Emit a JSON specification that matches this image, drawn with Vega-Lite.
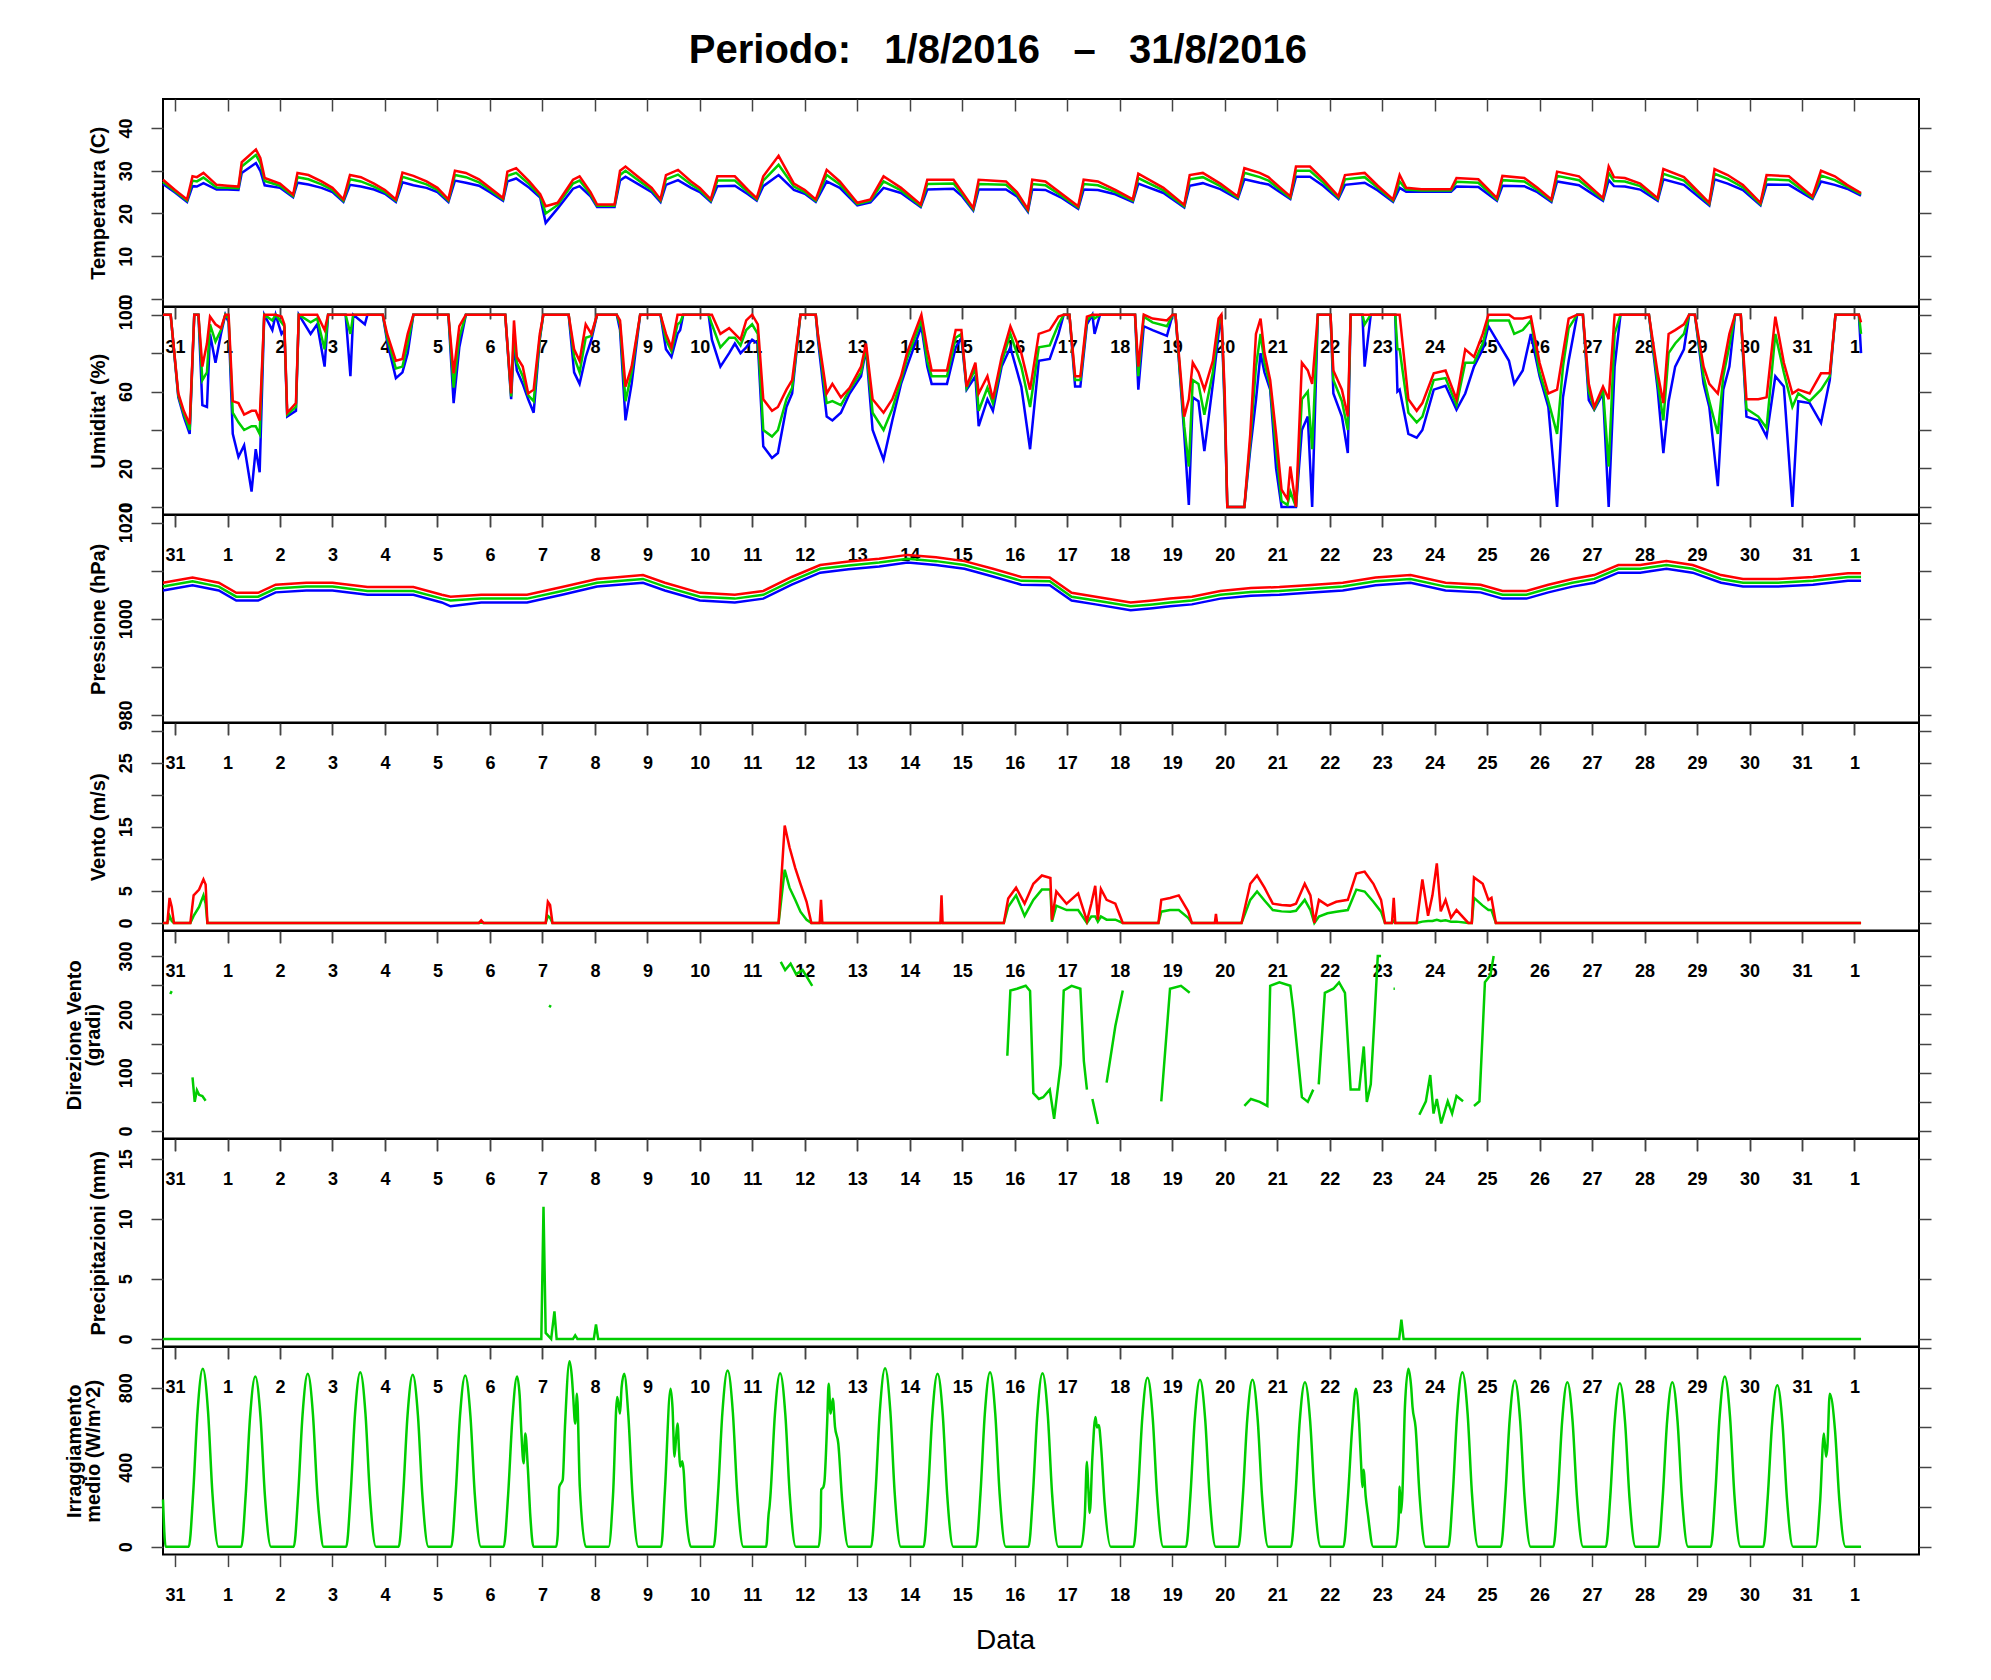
{
  "$schema": "https://vega.github.io/schema/vega-lite/v6.json",
  "padding": {"left": 62, "top": 31, "right": 5, "bottom": 5},
  "title": {
    "text": "Periodo:\u00a0\u00a0\u00a01/8/2016\u00a0\u00a0\u00a0–\u00a0\u00a0\u00a031/8/2016",
    "font": "Liberation Sans", "fontSize": 40, "fontWeight": "bold", "color": "#000",
    "anchor": "middle", "frame": "bounds", "baseline": "alphabetic", "offset": -6
  },
  "spacing": 0,
  "bounds": "flush",
  "config": {
    "view": {"stroke": "#000", "strokeWidth": 2},
    "axis": {
      "domain": false, "grid": false, "tickColor": "#444", "tickWidth": 1.5,
      "labelFont": "Liberation Sans", "labelFontSize": 18, "labelFontWeight": "bold", "labelColor": "#000",
      "labelFlush": false, "labelOverlap": false, "labelBound": false,
      "titleFont": "Liberation Sans", "titleFontSize": 20, "titleFontWeight": "bold", "titleColor": "#000"
    },
    "line": {"strokeWidth": 2.5}
  },
  "datasets": {
    "temp": [
      {"h":-5.5,"a":26.9,"b":27.4,"c":27.9},{"h":0,"a":24.9,"b":25.2,"c":25.5},{"h":5.5,"a":22.7,"b":23.0,"c":23.3},
      {"h":8,"a":26.4,"b":27.7,"c":28.7},{"h":10,"a":26.3,"b":27.5,"c":28.5},{"h":13,"a":27.1,"b":28.4,"c":29.5},
      {"h":19,"a":25.6,"b":26.1,"c":26.7},{"h":24,"a":25.6,"b":26.0,"c":26.5},{"h":29,"a":25.5,"b":25.9,"c":26.3},
      {"h":30.5,"a":29.5,"b":31,"c":32},{"h":37,"a":31.8,"b":33.7,"c":35},{"h":39,"a":30,"b":31.8,"c":33},
      {"h":41,"a":26.6,"b":27.6,"c":28.3},{"h":48,"a":26,"b":26.5,"c":27},{"h":54,"a":23.8,"b":24.1,"c":24.4},
      {"h":56,"a":27.2,"b":28.5,"c":29.5},{"h":61,"a":26.8,"b":28,"c":29},{"h":67,"a":26,"b":26.8,"c":27.5},
      {"h":72,"a":25,"b":25.5,"c":26},{"h":77,"a":22.7,"b":23,"c":23.3},{"h":80,"a":26.7,"b":28,"c":29},
      {"h":85,"a":26.3,"b":27.5,"c":28.5},{"h":91,"a":25.6,"b":26.3,"c":27},{"h":96,"a":24.6,"b":25,"c":25.5},
      {"h":101,"a":22.7,"b":23,"c":23.3},{"h":104,"a":27.3,"b":28.6,"c":29.6},{"h":109,"a":26.6,"b":27.8,"c":28.8},
      {"h":115,"a":26,"b":26.8,"c":27.5},{"h":120,"a":25,"b":25.5,"c":26},{"h":125,"a":22.7,"b":23,"c":23.3},
      {"h":128,"a":27.7,"b":29,"c":30},{"h":133,"a":27.2,"b":28.5,"c":29.5},{"h":139,"a":26.5,"b":27.3,"c":28},
      {"h":144,"a":25,"b":25.5,"c":26},{"h":150,"a":23,"b":23.3,"c":23.6},{"h":152,"a":27.5,"b":28.8,"c":29.8},
      {"h":156,"a":28.2,"b":29.5,"c":30.6},{"h":162,"a":26,"b":26.8,"c":27.5},{"h":167,"a":23.7,"b":24.1,"c":24.5},
      {"h":169.5,"a":17.8,"b":20,"c":21.7},{"h":175,"a":21.2,"b":22,"c":22.5},{"h":182,"a":25.8,"b":27,"c":27.9},
      {"h":185,"a":26.4,"b":27.7,"c":28.7},{"h":190,"a":24,"b":24.5,"c":25},{"h":193,"a":21.5,"b":21.8,"c":22.1},
      {"h":201,"a":21.5,"b":21.8,"c":22.1},{"h":203.5,"a":27.7,"b":29,"c":30},{"h":206,"a":28.6,"b":30,"c":31},
      {"h":212,"a":26.8,"b":27.7,"c":28.5},{"h":218,"a":25,"b":25.5,"c":26},{"h":222,"a":22.7,"b":23,"c":23.3},
      {"h":224.5,"a":26.7,"b":28,"c":29},{"h":230,"a":27.8,"b":29.1,"c":30.2},{"h":236,"a":26,"b":26.8,"c":27.5},
      {"h":240,"a":25,"b":25.5,"c":26},{"h":245,"a":22.7,"b":23,"c":23.3},{"h":248,"a":26.4,"b":27.7,"c":28.7},
      {"h":256,"a":26.5,"b":27.7,"c":28.7},{"h":262,"a":24.5,"b":25,"c":25.5},{"h":266,"a":23,"b":23.3,"c":23.6},
      {"h":269,"a":26.4,"b":27.7,"c":28.7},{"h":276,"a":29,"b":31.4,"c":33.5},{"h":283,"a":25.5,"b":26.3,"c":27},
      {"h":288,"a":24.6,"b":25,"c":25.5},{"h":293,"a":22.7,"b":23,"c":23.3},{"h":298,"a":27.5,"b":29,"c":30.2},
      {"h":304,"a":26,"b":26.8,"c":27.5},{"h":312,"a":21.9,"b":22.2,"c":22.5},{"h":318,"a":22.6,"b":23,"c":23.3},
      {"h":324,"a":26,"b":27.5,"c":28.7},{"h":332,"a":24.8,"b":25.4,"c":26},{"h":341,"a":21.5,"b":21.8,"c":22.1},
      {"h":344,"a":25.6,"b":26.9,"c":27.9},{"h":356,"a":25.8,"b":27,"c":27.9},{"h":360,"a":24,"b":24.5,"c":25},
      {"h":365,"a":20.7,"b":21,"c":21.3},{"h":367.5,"a":25.6,"b":26.9,"c":27.9},{"h":380,"a":25.6,"b":26.7,"c":27.5},
      {"h":385,"a":24,"b":24.5,"c":25},{"h":390,"a":20.4,"b":20.7,"c":21},{"h":392,"a":25.6,"b":26.9,"c":27.9},
      {"h":398,"a":25.5,"b":26.6,"c":27.5},{"h":405,"a":23.8,"b":24.3,"c":24.8},{"h":413,"a":21.1,"b":21.4,"c":21.7},
      {"h":415.5,"a":25.6,"b":26.9,"c":27.9},{"h":422,"a":25.5,"b":26.6,"c":27.5},{"h":430,"a":24.5,"b":25,"c":25.5},
      {"h":438,"a":22.7,"b":23,"c":23.3},{"h":440.5,"a":27,"b":28.3,"c":29.3},{"h":452,"a":24.8,"b":25.4,"c":26},
      {"h":461.5,"a":21.4,"b":21.7,"c":22},{"h":464,"a":26.5,"b":28,"c":29},{"h":470,"a":27.1,"b":28.5,"c":29.5},
      {"h":478,"a":25.7,"b":26.4,"c":27},{"h":486,"a":23.4,"b":23.7,"c":24},{"h":489,"a":28,"b":29.5,"c":30.6},
      {"h":496,"a":27.2,"b":28.5,"c":29.5},{"h":500,"a":26.8,"b":27.7,"c":28.5},{"h":510,"a":23.4,"b":23.7,"c":24},
      {"h":512.6,"a":28.6,"b":30,"c":31},{"h":519,"a":28.6,"b":30,"c":31},{"h":525,"a":26.5,"b":27.3,"c":28},
      {"h":532,"a":23.4,"b":23.7,"c":24},{"h":535,"a":26.7,"b":28,"c":29},{"h":544,"a":27.2,"b":28.5,"c":29.5},
      {"h":550,"a":25.4,"b":26,"c":26.5},{"h":557,"a":22.7,"b":23,"c":23.3},{"h":560,"a":26,"b":27.5,"c":29},
      {"h":563,"a":25.1,"b":25.6,"c":26},{"h":570,"a":25.1,"b":25.4,"c":25.7},{"h":583.5,"a":25.1,"b":25.4,"c":25.7},
      {"h":586,"a":26.3,"b":27.4,"c":28.3},{"h":596,"a":26.2,"b":27.2,"c":28},{"h":604.5,"a":23,"b":23.3,"c":23.6},
      {"h":607,"a":26.5,"b":27.8,"c":28.8},{"h":617,"a":26.4,"b":27.5,"c":28.3},{"h":623,"a":25,"b":25.5,"c":26},
      {"h":629.4,"a":22.7,"b":23,"c":23.3},{"h":632,"a":27.5,"b":28.8,"c":29.8},{"h":642,"a":26.6,"b":27.8,"c":28.7},
      {"h":653,"a":23,"b":23.3,"c":23.6},{"h":655.6,"a":27.8,"b":29.5,"c":31},{"h":658,"a":26.4,"b":27.6,"c":28.5},
      {"h":663,"a":26.3,"b":27.5,"c":28.3},{"h":670,"a":25.6,"b":26.4,"c":27},{"h":678,"a":23,"b":23.3,"c":23.6},
      {"h":680.6,"a":28,"b":29.3,"c":30.4},{"h":690,"a":26.7,"b":27.7,"c":28.5},{"h":701.6,"a":21.9,"b":22.2,"c":22.5},
      {"h":704,"a":28,"b":29.3,"c":30.4},{"h":710,"a":27,"b":28.1,"c":29},{"h":717,"a":25.5,"b":26.1,"c":26.7},
      {"h":725,"a":21.9,"b":22.2,"c":22.5},{"h":727.8,"a":26.8,"b":28,"c":29},{"h":738,"a":26.7,"b":27.8,"c":28.7},
      {"h":748.8,"a":23.4,"b":23.7,"c":24},{"h":752.7,"a":27.5,"b":28.9,"c":30},{"h":759,"a":26.7,"b":27.8,"c":28.7},
      {"h":764.6,"a":25.8,"b":26.3,"c":26.7},{"h":771,"a":24.2,"b":24.5,"c":24.8}
    ],
    "hum": [
      {"h":-5.5,"a":100,"b":100,"c":100},{"h":-2,"a":100,"b":100,"c":100},{"h":1.5,"a":57,"b":58,"c":59},
      {"h":4,"a":47,"b":48.5,"c":50},{"h":6.7,"a":38,"b":40,"c":43},{"h":8.8,"a":100,"b":100,"c":100},
      {"h":10.7,"a":100,"b":100,"c":100},{"h":12.5,"a":53,"b":66,"c":73},{"h":14.6,"a":52,"b":70,"c":85},
      {"h":16,"a":90,"b":95,"c":99},{"h":18.5,"a":75,"b":86,"c":95},{"h":21,"a":90,"b":92,"c":93},
      {"h":23,"a":100,"b":100,"c":100},{"h":24.5,"a":96,"b":98,"c":100},{"h":26.4,"a":38,"b":49,"c":55},
      {"h":29,"a":26,"b":44,"c":54},{"h":31.6,"a":32,"b":40,"c":48},{"h":35,"a":8,"b":42,"c":50},
      {"h":36.9,"a":30,"b":42,"c":50},{"h":38.7,"a":18,"b":38,"c":45},{"h":40.8,"a":100,"b":100,"c":100},
      {"h":44.5,"a":92,"b":97,"c":100},{"h":46,"a":100,"b":100,"c":100},{"h":48.7,"a":90,"b":96,"c":99},
      {"h":50,"a":92,"b":94,"c":95},{"h":51.3,"a":47,"b":48,"c":49},{"h":55.3,"a":50,"b":52,"c":54},
      {"h":56.6,"a":100,"b":100,"c":100},{"h":62,"a":90,"b":96,"c":100},{"h":65,"a":95,"b":98,"c":100},
      {"h":68.4,"a":73,"b":82,"c":92},{"h":70,"a":100,"b":100,"c":100},{"h":78,"a":100,"b":100,"c":100},
      {"h":80.2,"a":68,"b":90,"c":100},{"h":81.5,"a":100,"b":100,"c":100},{"h":86.8,"a":95,"b":100,"c":100},
      {"h":88,"a":100,"b":100,"c":100},{"h":95,"a":100,"b":100,"c":100},{"h":97,"a":86,"b":88,"c":90},
      {"h":101,"a":67,"b":72,"c":76},{"h":104,"a":70,"b":73,"c":77},{"h":106.4,"a":80,"b":85,"c":90},
      {"h":109,"a":100,"b":100,"c":100},{"h":125,"a":100,"b":100,"c":100},{"h":127.4,"a":54,"b":62,"c":69.5},
      {"h":130,"a":83,"b":88,"c":94},{"h":133,"a":100,"b":100,"c":100},{"h":151,"a":100,"b":100,"c":100},
      {"h":153.7,"a":56,"b":57.5,"c":59},{"h":155,"a":85,"b":90,"c":97},{"h":156.3,"a":71,"b":75,"c":78},
      {"h":159,"a":64,"b":68,"c":73},{"h":161.5,"a":56,"b":58,"c":59},{"h":164,"a":49,"b":55,"c":61},
      {"h":166.8,"a":87,"b":88,"c":90},{"h":168.4,"a":100,"b":100,"c":100},{"h":180,"a":100,"b":100,"c":100},
      {"h":182.5,"a":70,"b":78,"c":82},{"h":185,"a":64,"b":70,"c":76},{"h":187.8,"a":78,"b":88,"c":95},
      {"h":190.4,"a":87,"b":89,"c":90},{"h":193,"a":100,"b":100,"c":100},{"h":202,"a":100,"b":100,"c":100},
      {"h":203.5,"a":92,"b":95,"c":97},{"h":206,"a":45,"b":55,"c":62.6},{"h":208.8,"a":64,"b":70,"c":73},
      {"h":212.7,"a":100,"b":100,"c":100},{"h":222,"a":100,"b":100,"c":100},{"h":224.5,"a":82,"b":87,"c":90},
      {"h":227,"a":78,"b":81,"c":83},{"h":229.8,"a":90,"b":95,"c":100},{"h":231,"a":92,"b":96,"c":100},
      {"h":232.4,"a":100,"b":100,"c":100},{"h":244,"a":100,"b":100,"c":100},{"h":245.5,"a":87,"b":95,"c":100},
      {"h":249.4,"a":73,"b":83,"c":90},{"h":253.4,"a":80,"b":88,"c":93},{"h":256,"a":85,"b":88,"c":90},
      {"h":258.6,"a":80,"b":84,"c":87},{"h":261.2,"a":83,"b":92,"c":97},{"h":263.9,"a":87,"b":95,"c":100},
      {"h":266.5,"a":85,"b":90,"c":95},{"h":269,"a":31.5,"b":40,"c":56},{"h":273,"a":25.5,"b":36.6,"c":50},
      {"h":275.7,"a":28,"b":40,"c":52},{"h":279.6,"a":52,"b":56,"c":61},{"h":282.2,"a":59,"b":62,"c":66},
      {"h":286,"a":100,"b":100,"c":100},{"h":293,"a":100,"b":100,"c":100},{"h":294,"a":87,"b":89,"c":90},
      {"h":298,"a":47,"b":54,"c":59},{"h":300.6,"a":45,"b":55,"c":64},{"h":304.5,"a":49,"b":53,"c":57},
      {"h":308.5,"a":59,"b":61,"c":62},{"h":313.7,"a":68,"b":70,"c":73},{"h":316,"a":82,"b":83,"c":85},
      {"h":319,"a":40,"b":49,"c":56},{"h":324,"a":24.6,"b":40,"c":49},{"h":328,"a":45,"b":51,"c":56},
      {"h":332,"a":64,"b":66,"c":68},{"h":334.7,"a":73,"b":77,"c":80},{"h":341.3,"a":94,"b":97,"c":100},
      {"h":344,"a":73,"b":76,"c":82},{"h":346,"a":64,"b":68,"c":71},{"h":353,"a":64,"b":68,"c":71},
      {"h":357,"a":83,"b":88,"c":92},{"h":359.6,"a":88,"b":90,"c":92},{"h":362,"a":61,"b":62,"c":62.6},
      {"h":366,"a":68,"b":72,"c":75},{"h":367.5,"a":42,"b":50,"c":59},{"h":371.5,"a":56,"b":62,"c":68},
      {"h":374,"a":50,"b":54,"c":56},{"h":378,"a":73,"b":75,"c":78},{"h":382,"a":83,"b":90,"c":94},
      {"h":387,"a":62.6,"b":73,"c":80},{"h":391,"a":30,"b":52,"c":61},{"h":395,"a":76,"b":83,"c":90},
      {"h":400,"a":77,"b":84,"c":92},{"h":404,"a":90,"b":95,"c":99},{"h":406.4,"a":100,"b":100,"c":100},
      {"h":409,"a":100,"b":100,"c":100},{"h":411.6,"a":62.6,"b":66,"c":68},{"h":414,"a":62.6,"b":66,"c":68},
      {"h":417,"a":95,"b":97,"c":99},{"h":419.5,"a":100,"b":100,"c":100},{"h":420.5,"a":90,"b":98,"c":100},
      {"h":423,"a":100,"b":100,"c":100},{"h":439,"a":100,"b":100,"c":100},{"h":440.5,"a":61,"b":68,"c":73},
      {"h":443,"a":94,"b":99,"c":100},{"h":447,"a":92,"b":96,"c":98},{"h":453.6,"a":89,"b":94,"c":97},
      {"h":456.2,"a":100,"b":100,"c":100},{"h":457.5,"a":100,"b":100,"c":100},{"h":461.5,"a":38,"b":42,"c":47},
      {"h":463.6,"a":1,"b":21,"c":56},{"h":465.4,"a":57,"b":66,"c":75},{"h":468,"a":55,"b":64,"c":70},
      {"h":470.7,"a":29,"b":48,"c":61},{"h":474.6,"a":64,"b":70,"c":76},{"h":477.2,"a":90,"b":95,"c":98},
      {"h":478.5,"a":100,"b":100,"c":100},{"h":480,"a":50,"b":55,"c":60},{"h":481.2,"a":0,"b":0,"c":0},
      {"h":489,"a":0,"b":0,"c":0},{"h":491.7,"a":30,"b":34,"c":38},{"h":494.3,"a":55.6,"b":73,"c":90},
      {"h":496.4,"a":80,"b":90,"c":98},{"h":498.2,"a":70,"b":75,"c":80},{"h":500.8,"a":61,"b":63,"c":66},
      {"h":503.5,"a":20,"b":30,"c":38},{"h":506,"a":0,"b":3,"c":9},{"h":508.7,"a":0,"b":1,"c":4},
      {"h":510,"a":0,"b":8,"c":21},{"h":512.6,"a":0,"b":0,"c":0},{"h":515.3,"a":40,"b":56,"c":75},
      {"h":518,"a":47,"b":60,"c":71},{"h":520,"a":0,"b":30,"c":64},{"h":522.6,"a":100,"b":100,"c":100},
      {"h":528.4,"a":100,"b":100,"c":100},{"h":529.7,"a":59,"b":66,"c":71},{"h":533.6,"a":47,"b":55,"c":61},
      {"h":536.3,"a":28,"b":40,"c":47},{"h":537.6,"a":100,"b":100,"c":100},{"h":543,"a":100,"b":100,"c":100},
      {"h":544,"a":73,"b":95,"c":100},{"h":546.8,"a":100,"b":100,"c":100},{"h":558,"a":100,"b":100,"c":100},
      {"h":559,"a":60,"b":82,"c":100},{"h":560,"a":61,"b":82,"c":100},{"h":564,"a":38,"b":49,"c":56},
      {"h":567.8,"a":36,"b":44,"c":50},{"h":570.4,"a":40,"b":47,"c":54},{"h":575.6,"a":61,"b":66,"c":69.5},
      {"h":581,"a":63,"b":67,"c":71},{"h":586,"a":50.6,"b":53,"c":56},{"h":590,"a":59,"b":75,"c":82},
      {"h":594,"a":73,"b":75,"c":78},{"h":598,"a":82,"b":85,"c":90},{"h":600.6,"a":94,"b":97,"c":100},
      {"h":610,"a":76,"b":97,"c":100},{"h":612.4,"a":64,"b":90,"c":98},{"h":616.3,"a":71,"b":92,"c":98},
      {"h":620,"a":90,"b":97,"c":99},{"h":624,"a":68,"b":70,"c":75},{"h":628,"a":52,"b":55,"c":59},
      {"h":632,"a":0,"b":38,"c":61},{"h":634.7,"a":57,"b":73,"c":80},{"h":637.3,"a":76,"b":93,"c":98},
      {"h":641.2,"a":100,"b":100,"c":100},{"h":643.8,"a":100,"b":100,"c":100},{"h":646.5,"a":55.6,"b":60,"c":64},
      {"h":649,"a":50.6,"b":51,"c":52},{"h":653,"a":59,"b":61,"c":62.6},{"h":655.6,"a":0,"b":21,"c":56},
      {"h":658.3,"a":73,"b":90,"c":100},{"h":661,"a":100,"b":100,"c":100},{"h":674,"a":100,"b":100,"c":100},
      {"h":678,"a":61,"b":65,"c":69.5},{"h":680.6,"a":28,"b":45,"c":54},{"h":683,"a":55,"b":80,"c":90},
      {"h":686,"a":73,"b":85,"c":92},{"h":690,"a":82,"b":90,"c":95},{"h":692.4,"a":100,"b":100,"c":100},
      {"h":695,"a":100,"b":100,"c":100},{"h":699,"a":64,"b":68,"c":73},{"h":701.6,"a":52,"b":55,"c":64},
      {"h":705.5,"a":10.8,"b":38,"c":59},{"h":708,"a":61,"b":68,"c":73},{"h":710.8,"a":73,"b":84,"c":90},
      {"h":713.4,"a":100,"b":100,"c":100},{"h":716,"a":100,"b":100,"c":100},{"h":718.6,"a":47,"b":51,"c":56},
      {"h":724,"a":45,"b":47,"c":56},{"h":727.8,"a":36.6,"b":41,"c":57},{"h":731.8,"a":68,"b":90,"c":99},
      {"h":735.7,"a":62.6,"b":70,"c":75},{"h":739.6,"a":0,"b":52,"c":59},{"h":742.3,"a":55,"b":59,"c":61},
      {"h":747.5,"a":54,"b":55,"c":59},{"h":752.7,"a":43.6,"b":61,"c":69.5},{"h":756.7,"a":66,"b":68,"c":69.5},
      {"h":759.3,"a":100,"b":100,"c":100},{"h":770,"a":100,"b":100,"c":100},{"h":771,"a":80,"b":90,"c":96}
    ],
    "pres": [
      {"h":-5.5,"a":1005.9,"b":1006.7,"c":1007.5},{"h":8,"a":1007.0,"b":1007.8,"c":1008.6},{"h":20,"a":1005.9,"b":1006.7,"c":1007.5},
      {"h":28,"a":1003.8,"b":1004.6,"c":1005.4},{"h":38,"a":1003.8,"b":1004.6,"c":1005.4},{"h":46,"a":1005.5,"b":1006.3,"c":1007.1},
      {"h":60,"a":1005.9,"b":1006.7,"c":1007.5},{"h":72,"a":1005.9,"b":1006.7,"c":1007.5},{"h":88,"a":1005.0,"b":1005.8,"c":1006.6},
      {"h":109,"a":1005.0,"b":1005.8,"c":1006.6},{"h":122,"a":1003.4,"b":1004.2,"c":1005.0},{"h":126,"a":1002.6,"b":1003.8,"c":1004.6},
      {"h":140,"a":1003.4,"b":1004.2,"c":1005.0},{"h":161,"a":1003.4,"b":1004.2,"c":1005.0},{"h":177,"a":1005.0,"b":1005.8,"c":1006.6},
      {"h":193,"a":1006.7,"b":1007.5,"c":1008.3},{"h":214,"a":1007.5,"b":1008.3,"c":1009.1},{"h":224,"a":1005.9,"b":1006.7,"c":1007.5},
      {"h":240,"a":1003.8,"b":1004.6,"c":1005.4},{"h":256,"a":1003.4,"b":1004.2,"c":1005.0},{"h":269,"a":1004.2,"b":1005.0,"c":1005.8},
      {"h":282,"a":1007.1,"b":1007.9,"c":1008.7},{"h":295,"a":1009.6,"b":1010.4,"c":1011.2},{"h":308,"a":1010.3,"b":1011.1,"c":1011.9},
      {"h":322,"a":1010.9,"b":1011.7,"c":1012.5},{"h":335,"a":1011.7,"b":1012.5,"c":1013.3},{"h":348,"a":1011.2,"b":1012.0,"c":1012.8},
      {"h":361,"a":1010.4,"b":1011.2,"c":1012.0},{"h":374,"a":1008.8,"b":1009.6,"c":1010.4},{"h":387,"a":1007.1,"b":1007.9,"c":1008.7},
      {"h":400,"a":1007.0,"b":1007.8,"c":1008.6},{"h":410,"a":1003.8,"b":1004.6,"c":1005.4},{"h":421,"a":1003.0,"b":1003.8,"c":1004.6},
      {"h":437,"a":1001.8,"b":1002.6,"c":1003.4},{"h":447,"a":1002.2,"b":1003.0,"c":1003.8},{"h":455,"a":1002.6,"b":1003.4,"c":1004.2},
      {"h":465,"a":1003.0,"b":1003.8,"c":1004.6},{"h":478,"a":1004.2,"b":1005.0,"c":1005.8},{"h":492,"a":1004.8,"b":1005.6,"c":1006.4},
      {"h":505,"a":1005.0,"b":1005.8,"c":1006.6},{"h":518,"a":1005.4,"b":1006.2,"c":1007.0},{"h":534,"a":1005.9,"b":1006.7,"c":1007.5},
      {"h":549,"a":1007.0,"b":1007.8,"c":1008.6},{"h":565,"a":1007.5,"b":1008.3,"c":1009.1},{"h":581,"a":1005.9,"b":1006.7,"c":1007.5},
      {"h":597,"a":1005.5,"b":1006.3,"c":1007.1},{"h":607,"a":1004.2,"b":1005.0,"c":1005.8},{"h":618,"a":1004.2,"b":1005.0,"c":1005.8},
      {"h":628,"a":1005.5,"b":1006.3,"c":1007.1},{"h":639,"a":1006.7,"b":1007.5,"c":1008.3},{"h":649,"a":1007.5,"b":1008.3,"c":1009.1},
      {"h":660,"a":1009.6,"b":1010.4,"c":1011.2},{"h":670,"a":1009.6,"b":1010.4,"c":1011.2},{"h":682,"a":1010.4,"b":1011.2,"c":1012.0},
      {"h":694,"a":1009.6,"b":1010.4,"c":1011.2},{"h":707,"a":1007.5,"b":1008.3,"c":1009.1},{"h":717,"a":1006.7,"b":1007.5,"c":1008.3},
      {"h":733,"a":1006.7,"b":1007.5,"c":1008.3},{"h":749,"a":1007.1,"b":1007.9,"c":1008.7},{"h":765,"a":1007.9,"b":1008.7,"c":1009.5},
      {"h":771,"a":1007.9,"b":1008.7,"c":1009.5}
    ],
    "wind": [
      {"h":-5.5,"a":0,"b":0,"c":0},{"h":-3.5,"a":0,"b":0,"c":0},{"h":-2.5,"a":0,"b":1.1,"c":3.9},{"h":-1.5,"a":0,"b":0.3,"c":2.5},
      {"h":-0.5,"a":0,"b":0,"c":0},{"h":7,"a":0,"b":0,"c":0},{"h":8.5,"a":0,"b":1.1,"c":4.3},{"h":11,"a":0,"b":2.5,"c":5.2},
      {"h":13,"a":0,"b":4.3,"c":6.8},{"h":14,"a":0,"b":3,"c":6},{"h":14.8,"a":0,"b":0,"c":0},{"h":139,"a":0,"b":0,"c":0},
      {"h":140,"a":0,"b":0.2,"c":0.4},{"h":141,"a":0,"b":0,"c":0},{"h":169.5,"a":0,"b":0,"c":0},{"h":170.5,"a":0,"b":1.1,"c":3.3},
      {"h":171.5,"a":0,"b":0.8,"c":2.8},{"h":172.6,"a":0,"b":0,"c":0},{"h":276,"a":0,"b":0,"c":0},{"h":278.8,"a":0,"b":8.3,"c":15.2},
      {"h":281,"a":0,"b":5.5,"c":11.8},{"h":283.6,"a":0,"b":3.6,"c":8.6},{"h":286,"a":0,"b":1.75,"c":6.1},{"h":288.8,"a":0,"b":0.5,"c":3.3},
      {"h":291,"a":0,"b":0,"c":0},{"h":294.8,"a":0,"b":0,"c":0},{"h":295.4,"a":0,"b":0.5,"c":3.6},{"h":296,"a":0,"b":0,"c":0},
      {"h":350,"a":0,"b":0,"c":0},{"h":350.5,"a":0,"b":0.3,"c":4.3},{"h":351,"a":0,"b":0,"c":0},{"h":379,"a":0,"b":0,"c":0},
      {"h":381,"a":0,"b":2.5,"c":3.8},{"h":384.6,"a":0,"b":4.3,"c":5.5},{"h":388.5,"a":0,"b":1.1,"c":3},{"h":392.5,"a":0,"b":3.6,"c":6.1},
      {"h":396.4,"a":0,"b":5.2,"c":7.4},{"h":400.3,"a":0,"b":5.2,"c":7},{"h":401,"a":0,"b":0.2,"c":0.5},{"h":403,"a":0,"b":2.7,"c":4.9},
      {"h":407.7,"a":0,"b":2,"c":3},{"h":413,"a":0,"b":2,"c":4.6},{"h":417,"a":0,"b":0,"c":0.3},{"h":419,"a":0,"b":1,"c":3},
      {"h":420.8,"a":0,"b":1,"c":5.8},{"h":422,"a":0,"b":0.2,"c":0.5},{"h":423.4,"a":0,"b":1,"c":5.3},{"h":426,"a":0,"b":0.5,"c":3.6},
      {"h":430,"a":0,"b":0.5,"c":3},{"h":433.4,"a":0,"b":0,"c":0},{"h":449.7,"a":0,"b":0,"c":0},{"h":451,"a":0,"b":1.75,"c":3.6},
      {"h":455,"a":0,"b":2,"c":3.9},{"h":459,"a":0,"b":2,"c":4.3},{"h":463.3,"a":0,"b":0.8,"c":1.8},{"h":465,"a":0,"b":0,"c":0},
      {"h":475.5,"a":0,"b":0,"c":0},{"h":476,"a":0,"b":0.3,"c":1.4},{"h":476.5,"a":0,"b":0,"c":0},{"h":487.7,"a":0,"b":0,"c":0},
      {"h":491.7,"a":0,"b":3.6,"c":6.1},{"h":494.8,"a":0,"b":4.9,"c":7.4},{"h":498.2,"a":0,"b":3.5,"c":5.5},{"h":502,"a":0,"b":2,"c":3},
      {"h":506,"a":0,"b":1.8,"c":2.8},{"h":510,"a":0,"b":1.75,"c":2.7},{"h":512.6,"a":0,"b":1.9,"c":3},{"h":516.6,"a":0,"b":3.6,"c":6.1},
      {"h":519.2,"a":0,"b":2,"c":4.3},{"h":521,"a":0,"b":0,"c":0},{"h":523.1,"a":0,"b":1,"c":3.6},{"h":527,"a":0,"b":1.5,"c":2.7},
      {"h":531,"a":0,"b":1.75,"c":3.3},{"h":536.3,"a":0,"b":2,"c":3.6},{"h":540.2,"a":0,"b":5.2,"c":7.7},{"h":544,"a":0,"b":4.9,"c":8},
      {"h":548,"a":0,"b":3.3,"c":6.1},{"h":551.5,"a":0,"b":1.75,"c":3.6},{"h":553.3,"a":0,"b":0,"c":0},{"h":556.5,"a":0,"b":0,"c":0},
      {"h":557.3,"a":0,"b":0.3,"c":3.9},{"h":558,"a":0,"b":0,"c":0},{"h":567.8,"a":0,"b":0,"c":0},{"h":570.4,"a":0,"b":0.2,"c":6.8},
      {"h":573,"a":0,"b":0.3,"c":1.1},{"h":575,"a":0,"b":0.3,"c":4.3},{"h":577,"a":0,"b":0.5,"c":9.3},{"h":578.8,"a":0,"b":0.3,"c":1.8},
      {"h":581,"a":0,"b":0.4,"c":3.6},{"h":583.5,"a":0,"b":0.2,"c":0.8},{"h":586,"a":0,"b":0.2,"c":2},{"h":591.4,"a":0,"b":0,"c":0},
      {"h":593,"a":0,"b":0,"c":0},{"h":594,"a":0,"b":3.9,"c":7.1},{"h":598,"a":0,"b":2.7,"c":6.1},{"h":600.6,"a":0,"b":2,"c":3.6},
      {"h":602,"a":0,"b":2,"c":3.9},{"h":604,"a":0,"b":0,"c":0},{"h":771,"a":0,"b":0,"c":0}
    ],
    "dir": [
      {"h":-2.2,"v":235},{"h":-1.5,"v":240},{"h":-1,"v":null},
      {"h":8,"v":92},{"h":9,"v":50},{"h":10,"v":70},{"h":11,"v":62},{"h":12.5,"v":60},{"h":14,"v":52},{"h":15,"v":null},
      {"h":171.2,"v":212},{"h":171.8,"v":216},{"h":172.5,"v":null},
      {"h":277,"v":290},{"h":279,"v":276},{"h":281.5,"v":287},{"h":284,"v":269},{"h":287,"v":276},{"h":291.4,"v":249},{"h":292,"v":null},
      {"h":380.6,"v":129},{"h":382,"v":241},{"h":385,"v":244},{"h":389,"v":249},{"h":391,"v":240},{"h":392.5,"v":65},{"h":395,"v":55},
      {"h":397,"v":58},{"h":400,"v":71},{"h":402,"v":21},{"h":405,"v":114},{"h":406.4,"v":241},{"h":410,"v":249},{"h":414,"v":244},
      {"h":415.6,"v":120},{"h":417,"v":71},{"h":418,"v":null},{"h":419.5,"v":55},{"h":422,"v":12},{"h":423,"v":null},
      {"h":426,"v":83},{"h":430,"v":180},{"h":433.4,"v":241},{"h":434,"v":null},
      {"h":451,"v":51},{"h":455,"v":244},{"h":460,"v":249},{"h":464,"v":237},{"h":465,"v":null},
      {"h":489,"v":43},{"h":492,"v":55},{"h":496,"v":50},{"h":499.5,"v":43},{"h":500.8,"v":249},{"h":505,"v":255},{"h":510,"v":249},
      {"h":511.3,"v":210},{"h":515.3,"v":58},{"h":518,"v":50},{"h":520.5,"v":71},{"h":521.5,"v":null},
      {"h":523,"v":80},{"h":525.8,"v":237},{"h":529.7,"v":244},{"h":532.3,"v":255},{"h":535,"v":237},{"h":537.6,"v":71},{"h":541.5,"v":71},
      {"h":543.6,"v":145},{"h":545,"v":50},{"h":546.8,"v":80},{"h":548.6,"v":200},{"h":550,"v":300},{"h":551.5,"v":300},{"h":552,"v":null},
      {"h":557.2,"v":244},{"h":557.8,"v":244},{"h":558,"v":null},
      {"h":569,"v":28},{"h":572,"v":51},{"h":574,"v":96},{"h":575.5,"v":30},{"h":577,"v":55},{"h":579,"v":13},{"h":582,"v":51},
      {"h":584,"v":30},{"h":586,"v":60},{"h":589,"v":51},{"h":590,"v":null},
      {"h":594,"v":43},{"h":596.5,"v":51},{"h":599,"v":255},{"h":601.5,"v":267},{"h":603,"v":300},{"h":604,"v":null}
    ],
    "rain": [
      {"h":-5.5,"v":0},{"h":167.5,"v":0},{"h":168.5,"v":11},{"h":169.5,"v":0.5},{"h":172,"v":0},{"h":173.5,"v":2.3},{"h":174.5,"v":0},
      {"h":182,"v":0},{"h":183,"v":0.3},{"h":184,"v":0},{"h":191.5,"v":0},{"h":192.5,"v":1.2},{"h":193.5,"v":0},
      {"h":559.8,"v":0},{"h":560.8,"v":1.6},{"h":561.8,"v":0},{"h":771,"v":0}
    ],
    "rad": [
      {"h":-5.5,"v":237},{"h":-4.3,"v":0},
      {"h":6.3,"v":0},{"h":8.3,"v":269},{"h":10.3,"v":680},{"h":12.7,"v":895},{"h":15.1,"v":680},{"h":17.1,"v":269},{"h":19.9,"v":0},
      {"h":30.3,"v":0},{"h":32.3,"v":257},{"h":34.3,"v":651},{"h":36.7,"v":857},{"h":39.1,"v":651},{"h":41.1,"v":257},{"h":43.9,"v":0},
      {"h":54.3,"v":0},{"h":56.3,"v":261},{"h":58.3,"v":661},{"h":60.7,"v":870},{"h":63.1,"v":661},{"h":65.1,"v":261},{"h":66.2,"v":120},{"h":67.9,"v":0},
      {"h":78.3,"v":0},{"h":80.3,"v":263},{"h":82.3,"v":667},{"h":84.7,"v":878},{"h":87.1,"v":667},{"h":89.1,"v":263},{"h":91.9,"v":0},
      {"h":102.3,"v":0},{"h":104.3,"v":260},{"h":106.3,"v":657},{"h":108.7,"v":865},{"h":111.1,"v":657},{"h":113.1,"v":260},{"h":115.9,"v":0},
      {"h":126.3,"v":0},{"h":128.3,"v":259},{"h":130.3,"v":655},{"h":132.7,"v":862},{"h":135.1,"v":655},{"h":137.1,"v":259},{"h":139.9,"v":0},
      {"h":150.3,"v":0},{"h":152.3,"v":257},{"h":154.3,"v":651},{"h":156.4,"v":857},{"h":157.6,"v":760},{"h":158.4,"v":570},{"h":159.4,"v":420},
      {"h":160.2,"v":570},{"h":161.3,"v":403},{"h":162.5,"v":150},{"h":163.9,"v":0},
      {"h":174.3,"v":0},{"h":175,"v":60},{"h":175.7,"v":300},{"h":177.3,"v":337},{"h":178.3,"v":600},{"h":180.4,"v":933},{"h":181.5,"v":850},
      {"h":182,"v":770},{"h":183,"v":620},{"h":183.8,"v":770},{"h":185.1,"v":300},{"h":187.9,"v":0},
      {"h":198.3,"v":0},{"h":200.3,"v":261},{"h":202.2,"v":753},{"h":203,"v":700},{"h":203.5,"v":670},{"h":204.2,"v":800},{"h":205.4,"v":870},
      {"h":207.3,"v":660},{"h":209.2,"v":260},{"h":211.9,"v":0},
      {"h":222.3,"v":0},{"h":224,"v":280},{"h":226.6,"v":795},{"h":227.5,"v":700},{"h":228.4,"v":453},{"h":229.2,"v":560},{"h":229.8,"v":620},
      {"h":230.5,"v":480},{"h":231,"v":403},{"h":232,"v":430},{"h":232.6,"v":380},{"h":233.5,"v":200},{"h":235.9,"v":0},
      {"h":246.3,"v":0},{"h":248.3,"v":266},{"h":250.3,"v":674},{"h":252.7,"v":887},{"h":255.1,"v":674},{"h":257.1,"v":266},{"h":259.9,"v":0},
      {"h":270.3,"v":0},{"h":271.5,"v":170},{"h":271.8,"v":195},{"h":272.3,"v":262},{"h":274.3,"v":663},{"h":276.7,"v":873},{"h":279.1,"v":663},
      {"h":281.1,"v":262},{"h":283.9,"v":0},
      {"h":294.3,"v":0},{"h":295.2,"v":100},{"h":295.5,"v":287},{"h":296.5,"v":300},{"h":297,"v":330},{"h":298.2,"v":620},{"h":298.9,"v":820},
      {"h":299.8,"v":670},{"h":300.8,"v":745},{"h":301.8,"v":603},{"h":303.3,"v":520},{"h":305.1,"v":230},{"h":307.9,"v":0},
      {"h":318.3,"v":0},{"h":320.3,"v":269},{"h":322.3,"v":682},{"h":324.7,"v":898},{"h":327.1,"v":682},{"h":329.1,"v":269},{"h":331.9,"v":0},
      {"h":342.3,"v":0},{"h":344.3,"v":261},{"h":346.3,"v":661},{"h":348.7,"v":870},{"h":351.1,"v":661},{"h":353.1,"v":261},{"h":355.9,"v":0},
      {"h":366.3,"v":0},{"h":368.3,"v":263},{"h":370.3,"v":667},{"h":372.7,"v":878},{"h":375.1,"v":667},{"h":377.1,"v":263},{"h":379.9,"v":0},
      {"h":390.3,"v":0},{"h":392.3,"v":262},{"h":394.3,"v":663},{"h":396.7,"v":873},{"h":399.1,"v":663},{"h":401.1,"v":262},{"h":403.9,"v":0},
      {"h":414.3,"v":0},{"h":416,"v":150},{"h":417,"v":428},{"h":417.6,"v":300},{"h":418.3,"v":170},{"h":419.5,"v":450},{"h":420.9,"v":653},
      {"h":421.6,"v":600},{"h":422.4,"v":612},{"h":423.5,"v":500},{"h":425.1,"v":220},{"h":427.9,"v":0},
      {"h":438.3,"v":0},{"h":440.3,"v":255},{"h":442.3,"v":646},{"h":444.7,"v":850},{"h":447.1,"v":646},{"h":449.1,"v":255},{"h":451.9,"v":0},
      {"h":462.3,"v":0},{"h":464.3,"v":252},{"h":466.3,"v":638},{"h":468.7,"v":840},{"h":471.1,"v":638},{"h":473.1,"v":252},{"h":475.9,"v":0},
      {"h":486.3,"v":0},{"h":488.3,"v":252},{"h":490.3,"v":638},{"h":492.7,"v":840},{"h":495.1,"v":638},{"h":497.1,"v":252},{"h":499.9,"v":0},
      {"h":510.3,"v":0},{"h":512.3,"v":248},{"h":514.3,"v":629},{"h":516.7,"v":828},{"h":519.1,"v":629},{"h":521.1,"v":248},{"h":523.9,"v":0},
      {"h":534.3,"v":0},{"h":536.3,"v":240},{"h":538.3,"v":600},{"h":540,"v":795},{"h":541.5,"v":620},{"h":542.5,"v":387},{"h":543,"v":300},
      {"h":543.5,"v":387},{"h":544.5,"v":250},{"h":545.4,"v":170},{"h":547.9,"v":0},
      {"h":558.3,"v":0},{"h":559.6,"v":150},{"h":560,"v":303},{"h":560.6,"v":170},{"h":561.2,"v":250},{"h":562.4,"v":700},{"h":564,"v":895},
      {"h":565.3,"v":800},{"h":565.9,"v":703},{"h":567.3,"v":600},{"h":569.1,"v":260},{"h":571.9,"v":0},
      {"h":582.3,"v":0},{"h":584.3,"v":263},{"h":586.3,"v":667},{"h":588.7,"v":878},{"h":591.1,"v":667},{"h":593.1,"v":263},{"h":595.9,"v":0},
      {"h":606.3,"v":0},{"h":608.3,"v":251},{"h":610.3,"v":636},{"h":612.7,"v":837},{"h":615.1,"v":636},{"h":617.1,"v":251},{"h":619.9,"v":0},
      {"h":630.3,"v":0},{"h":632.3,"v":248},{"h":634.3,"v":629},{"h":636.7,"v":828},{"h":639.1,"v":629},{"h":641.1,"v":248},{"h":643.9,"v":0},
      {"h":654.3,"v":0},{"h":656.3,"v":247},{"h":658.3,"v":625},{"h":660.7,"v":823},{"h":663.1,"v":625},{"h":665.1,"v":247},{"h":667.9,"v":0},
      {"h":678.3,"v":0},{"h":680.3,"v":248},{"h":682.3,"v":629},{"h":684.7,"v":828},{"h":687.1,"v":629},{"h":689.1,"v":248},{"h":691.9,"v":0},
      {"h":702.3,"v":0},{"h":704.3,"v":257},{"h":706.3,"v":651},{"h":708.7,"v":857},{"h":711.1,"v":651},{"h":713.1,"v":257},{"h":715.9,"v":0},
      {"h":726.3,"v":0},{"h":728.3,"v":244},{"h":730.3,"v":617},{"h":732.7,"v":812},{"h":735.1,"v":617},{"h":737.1,"v":244},{"h":739.9,"v":0},
      {"h":750.3,"v":0},{"h":752.3,"v":230},{"h":754,"v":570},{"h":755,"v":453},{"h":755.6,"v":500},{"h":756.7,"v":770},{"h":759.1,"v":585},
      {"h":761.1,"v":230},{"h":763.9,"v":0},{"h":771,"v":0}
    ]
  },
  "vconcat": [
    {
      "width": 1756, "height": 207.6,
      "data": {"name": "temp"},
      "layer": [
        {"mark": {"type": "line", "color": "#0000ff"},
         "encoding": {
           "x": {"field": "h", "type": "quantitative", "scale": {"domain": [-5.5, 797.5], "nice": false, "zero": false},
                 "axis": {"orient": "bottom", "values": [0,24,48,72,96,120,144,168,192,216,240,264,288,312,336,360,384,408,432,456,480,504,528,552,576,600,624,648,672,696,720,744,768], "tickSize": 12, "labelPadding": 20, "labelExpr": "datum.value == 0 ? '31' : datum.value == 768 ? '1' : '' + datum.value / 24", "title": null}},
           "y": {"field": "a", "type": "quantitative", "scale": {"domain": [-1.8, 46.8], "nice": false, "zero": false},
                 "axis": {"orient": "left", "values": [0,10,20,30,40], "format": "d", "tickSize": 12, "labelAngle": -90, "labelAlign": "center", "labelBaseline": "bottom", "labelPadding": 16, "title": "Temperatura (C)", "titleX": -65, "titleBaseline": "middle"}}}},
        {"mark": {"type": "line", "color": "#00cd00"},
         "encoding": {
           "x": {"field": "h", "type": "quantitative", "scale": {"domain": [-5.5, 797.5], "nice": false, "zero": false},
                 "axis": {"orient": "top", "values": [0,24,48,72,96,120,144,168,192,216,240,264,288,312,336,360,384,408,432,456,480,504,528,552,576,600,624,648,672,696,720,744,768], "tickSize": -12, "labels": false, "title": null}},
           "y": {"field": "b", "type": "quantitative", "scale": {"domain": [-1.8, 46.8], "nice": false, "zero": false},
                 "axis": {"orient": "right", "values": [0,10,20,30,40], "tickSize": 12, "labels": false, "title": null}}}},
        {"mark": {"type": "line", "color": "#ff0000"},
         "encoding": {
           "x": {"field": "h", "type": "quantitative", "scale": {"domain": [-5.5, 797.5], "nice": false, "zero": false}, "axis": null},
           "y": {"field": "c", "type": "quantitative", "scale": {"domain": [-1.8, 46.8], "nice": false, "zero": false}, "axis": null}}}
      ],
      "resolve": {"axis": {"x": "independent", "y": "independent"}}
    },
    {
      "width": 1756, "height": 207.6,
      "data": {"name": "hum"},
      "layer": [
        {"mark": {"type": "line", "color": "#0000ff"},
         "encoding": {
           "x": {"field": "h", "type": "quantitative", "scale": {"domain": [-5.5, 797.5], "nice": false, "zero": false},
                 "axis": {"orient": "bottom", "values": [0,24,48,72,96,120,144,168,192,216,240,264,288,312,336,360,384,408,432,456,480,504,528,552,576,600,624,648,672,696,720,744,768], "tickSize": 12, "labelPadding": 20, "labelExpr": "datum.value == 0 ? '31' : datum.value == 768 ? '1' : '' + datum.value / 24", "title": null}},
           "y": {"field": "a", "type": "quantitative", "scale": {"domain": [-4, 104], "nice": false, "zero": false},
                 "axis": {"orient": "left", "values": [0,20,40,60,80,100], "format": "d", "labelExpr": "indexof([0,20,60,100], datum.value) >= 0 ? datum.label : ''", "tickSize": 12, "labelAngle": -90, "labelAlign": "center", "labelBaseline": "bottom", "labelPadding": 16, "title": "Umidita' (%)", "titleX": -65, "titleBaseline": "middle"}}}},
        {"mark": {"type": "line", "color": "#00cd00"},
         "encoding": {
           "x": {"field": "h", "type": "quantitative", "scale": {"domain": [-5.5, 797.5], "nice": false, "zero": false},
                 "axis": {"orient": "top", "values": [0,24,48,72,96,120,144,168,192,216,240,264,288,312,336,360,384,408,432,456,480,504,528,552,576,600,624,648,672,696,720,744,768], "tickSize": -12, "labels": false, "title": null}},
           "y": {"field": "b", "type": "quantitative", "scale": {"domain": [-4, 104], "nice": false, "zero": false},
                 "axis": {"orient": "right", "values": [0,20,40,60,80,100], "tickSize": 12, "labels": false, "title": null}}}},
        {"mark": {"type": "line", "color": "#ff0000"},
         "encoding": {
           "x": {"field": "h", "type": "quantitative", "scale": {"domain": [-5.5, 797.5], "nice": false, "zero": false}, "axis": null},
           "y": {"field": "c", "type": "quantitative", "scale": {"domain": [-4, 104], "nice": false, "zero": false}, "axis": null}}}
      ],
      "resolve": {"axis": {"x": "independent", "y": "independent"}}
    },
    {
      "width": 1756, "height": 207.6,
      "data": {"name": "pres"},
      "layer": [
        {"mark": {"type": "line", "color": "#0000ff"},
         "encoding": {
           "x": {"field": "h", "type": "quantitative", "scale": {"domain": [-5.5, 797.5], "nice": false, "zero": false},
                 "axis": {"orient": "bottom", "values": [0,24,48,72,96,120,144,168,192,216,240,264,288,312,336,360,384,408,432,456,480,504,528,552,576,600,624,648,672,696,720,744,768], "tickSize": 12, "labelPadding": 20, "labelExpr": "datum.value == 0 ? '31' : datum.value == 768 ? '1' : '' + datum.value / 24", "title": null}},
           "y": {"field": "a", "type": "quantitative", "scale": {"domain": [978.4, 1021.6], "nice": false, "zero": false},
                 "axis": {"orient": "left", "values": [980,990,1000,1010,1020], "format": "d", "labelExpr": "indexof([980,1000,1020], datum.value) >= 0 ? datum.label : ''", "tickSize": 12, "labelAngle": -90, "labelAlign": "center", "labelBaseline": "bottom", "labelPadding": 16, "title": "Pressione (hPa)", "titleX": -65, "titleBaseline": "middle"}}}},
        {"mark": {"type": "line", "color": "#00cd00"},
         "encoding": {
           "x": {"field": "h", "type": "quantitative", "scale": {"domain": [-5.5, 797.5], "nice": false, "zero": false},
                 "axis": {"orient": "top", "values": [0,24,48,72,96,120,144,168,192,216,240,264,288,312,336,360,384,408,432,456,480,504,528,552,576,600,624,648,672,696,720,744,768], "tickSize": -12, "labels": false, "title": null}},
           "y": {"field": "b", "type": "quantitative", "scale": {"domain": [978.4, 1021.6], "nice": false, "zero": false},
                 "axis": {"orient": "right", "values": [980,990,1000,1010,1020], "tickSize": 12, "labels": false, "title": null}}}},
        {"mark": {"type": "line", "color": "#ff0000"},
         "encoding": {
           "x": {"field": "h", "type": "quantitative", "scale": {"domain": [-5.5, 797.5], "nice": false, "zero": false}, "axis": null},
           "y": {"field": "c", "type": "quantitative", "scale": {"domain": [978.4, 1021.6], "nice": false, "zero": false}, "axis": null}}}
      ],
      "resolve": {"axis": {"x": "independent", "y": "independent"}}
    },
    {
      "width": 1756, "height": 207.6,
      "data": {"name": "wind"},
      "layer": [
        {"mark": {"type": "line", "color": "#0000ff", "opacity": 0},
         "encoding": {
           "x": {"field": "h", "type": "quantitative", "scale": {"domain": [-5.5, 797.5], "nice": false, "zero": false},
                 "axis": {"orient": "bottom", "values": [0,24,48,72,96,120,144,168,192,216,240,264,288,312,336,360,384,408,432,456,480,504,528,552,576,600,624,648,672,696,720,744,768], "tickSize": 12, "labelPadding": 20, "labelExpr": "datum.value == 0 ? '31' : datum.value == 768 ? '1' : '' + datum.value / 24", "title": null}},
           "y": {"field": "a", "type": "quantitative", "scale": {"domain": [-1.2, 31.2], "nice": false, "zero": false},
                 "axis": {"orient": "left", "values": [0,5,10,15,20,25,30], "format": "d", "labelExpr": "indexof([0,5,15,25], datum.value) >= 0 ? datum.label : ''", "tickSize": 12, "labelAngle": -90, "labelAlign": "center", "labelBaseline": "bottom", "labelPadding": 16, "title": "Vento (m/s)", "titleX": -65, "titleBaseline": "middle"}}}},
        {"mark": {"type": "line", "color": "#00cd00"},
         "encoding": {
           "x": {"field": "h", "type": "quantitative", "scale": {"domain": [-5.5, 797.5], "nice": false, "zero": false},
                 "axis": {"orient": "top", "values": [0,24,48,72,96,120,144,168,192,216,240,264,288,312,336,360,384,408,432,456,480,504,528,552,576,600,624,648,672,696,720,744,768], "tickSize": -12, "labels": false, "title": null}},
           "y": {"field": "b", "type": "quantitative", "scale": {"domain": [-1.2, 31.2], "nice": false, "zero": false},
                 "axis": {"orient": "right", "values": [0,5,10,15,20,25,30], "tickSize": 12, "labels": false, "title": null}}}},
        {"mark": {"type": "line", "color": "#ff0000"},
         "encoding": {
           "x": {"field": "h", "type": "quantitative", "scale": {"domain": [-5.5, 797.5], "nice": false, "zero": false}, "axis": null},
           "y": {"field": "c", "type": "quantitative", "scale": {"domain": [-1.2, 31.2], "nice": false, "zero": false}, "axis": null}}}
      ],
      "resolve": {"axis": {"x": "independent", "y": "independent"}}
    },
    {
      "width": 1756, "height": 207.6,
      "data": {"name": "dir"},
      "layer": [
        {"mark": {"type": "line", "color": "#00cd00", "invalid": "break-paths-show-domains"},
         "encoding": {
           "x": {"field": "h", "type": "quantitative", "scale": {"domain": [-5.5, 797.5], "nice": false, "zero": false},
                 "axis": {"orient": "bottom", "values": [0,24,48,72,96,120,144,168,192,216,240,264,288,312,336,360,384,408,432,456,480,504,528,552,576,600,624,648,672,696,720,744,768], "tickSize": 12, "labelPadding": 20, "labelExpr": "datum.value == 0 ? '31' : datum.value == 768 ? '1' : '' + datum.value / 24", "title": null}},
           "y": {"field": "v", "type": "quantitative", "scale": {"domain": [-13, 343], "nice": false, "zero": false},
                 "axis": {"orient": "left", "values": [0,50,100,150,200,250,300], "format": "d", "labelExpr": "indexof([0,100,200,300], datum.value) >= 0 ? datum.label : ''", "tickSize": 12, "labelAngle": -90, "labelAlign": "center", "labelBaseline": "bottom", "labelPadding": 16, "title": ["Direzione Vento", "(gradi)"], "titleLineHeight": 19, "titleX": -89, "titleBaseline": "middle"}}}},
        {"mark": {"type": "line", "opacity": 0, "invalid": "break-paths-show-domains"},
         "encoding": {
           "x": {"field": "h", "type": "quantitative", "scale": {"domain": [-5.5, 797.5], "nice": false, "zero": false},
                 "axis": {"orient": "top", "values": [0,24,48,72,96,120,144,168,192,216,240,264,288,312,336,360,384,408,432,456,480,504,528,552,576,600,624,648,672,696,720,744,768], "tickSize": -12, "labels": false, "title": null}},
           "y": {"field": "v", "type": "quantitative", "scale": {"domain": [-13, 343], "nice": false, "zero": false},
                 "axis": {"orient": "right", "values": [0,50,100,150,200,250,300], "tickSize": 12, "labels": false, "title": null}}}}
      ],
      "resolve": {"axis": {"x": "independent", "y": "independent"}}
    },
    {
      "width": 1756, "height": 207.6,
      "data": {"name": "rain"},
      "layer": [
        {"mark": {"type": "line", "color": "#00cd00"},
         "encoding": {
           "x": {"field": "h", "type": "quantitative", "scale": {"domain": [-5.5, 797.5], "nice": false, "zero": false},
                 "axis": {"orient": "bottom", "values": [0,24,48,72,96,120,144,168,192,216,240,264,288,312,336,360,384,408,432,456,480,504,528,552,576,600,624,648,672,696,720,744,768], "tickSize": 12, "labelPadding": 20, "labelExpr": "datum.value == 0 ? '31' : datum.value == 768 ? '1' : '' + datum.value / 24", "title": null}},
           "y": {"field": "v", "type": "quantitative", "scale": {"domain": [-0.64, 16.64], "nice": false, "zero": false},
                 "axis": {"orient": "left", "values": [0,5,10,15], "format": "d", "tickSize": 12, "labelAngle": -90, "labelAlign": "center", "labelBaseline": "bottom", "labelPadding": 16, "title": "Precipitazioni (mm)", "titleX": -65, "titleBaseline": "middle"}}}},
        {"mark": {"type": "line", "opacity": 0},
         "encoding": {
           "x": {"field": "h", "type": "quantitative", "scale": {"domain": [-5.5, 797.5], "nice": false, "zero": false},
                 "axis": {"orient": "top", "values": [0,24,48,72,96,120,144,168,192,216,240,264,288,312,336,360,384,408,432,456,480,504,528,552,576,600,624,648,672,696,720,744,768], "tickSize": -12, "labels": false, "title": null}},
           "y": {"field": "v", "type": "quantitative", "scale": {"domain": [-0.64, 16.64], "nice": false, "zero": false},
                 "axis": {"orient": "right", "values": [0,5,10,15], "tickSize": 12, "labels": false, "title": null}}}}
      ],
      "resolve": {"axis": {"x": "independent", "y": "independent"}}
    },
    {
      "width": 1756, "height": 207.6,
      "data": {"name": "rad"},
      "layer": [
        {"mark": {"type": "line", "color": "#00cd00", "interpolate": "monotone"},
         "encoding": {
           "x": {"field": "h", "type": "quantitative", "scale": {"domain": [-5.5, 797.5], "nice": false, "zero": false},
                 "axis": {"orient": "bottom", "values": [0,24,48,72,96,120,144,168,192,216,240,264,288,312,336,360,384,408,432,456,480,504,528,552,576,600,624,648,672,696,720,744,768], "tickSize": 12, "labelPadding": 20, "labelExpr": "datum.value == 0 ? '31' : datum.value == 768 ? '1' : '' + datum.value / 24",
                          "title": "Data", "titleFontSize": 28, "titleFontWeight": "normal", "titleX": 842, "titleY": 86, "titleBaseline": "middle"}},
           "y": {"field": "v", "type": "quantitative", "scale": {"domain": [-40, 1005], "nice": false, "zero": false},
                 "axis": {"orient": "left", "values": [0,200,400,600,800,1000], "format": "d", "labelExpr": "indexof([0,400,800], datum.value) >= 0 ? datum.label : ''", "tickSize": 12, "labelAngle": -90, "labelAlign": "center", "labelBaseline": "bottom", "labelPadding": 16, "title": ["Irraggiamento", "medio (W/m^2)"], "titleLineHeight": 19, "titleX": -89, "titleBaseline": "middle"}}}},
        {"mark": {"type": "line", "opacity": 0},
         "encoding": {
           "x": {"field": "h", "type": "quantitative", "scale": {"domain": [-5.5, 797.5], "nice": false, "zero": false},
                 "axis": {"orient": "top", "values": [0,24,48,72,96,120,144,168,192,216,240,264,288,312,336,360,384,408,432,456,480,504,528,552,576,600,624,648,672,696,720,744,768], "tickSize": -12, "labels": false, "title": null}},
           "y": {"field": "v", "type": "quantitative", "scale": {"domain": [-40, 1005], "nice": false, "zero": false},
                 "axis": {"orient": "right", "values": [0,200,400,600,800,1000], "tickSize": 12, "labels": false, "title": null}}}}
      ],
      "resolve": {"axis": {"x": "independent", "y": "independent"}}
    }
  ]
}
